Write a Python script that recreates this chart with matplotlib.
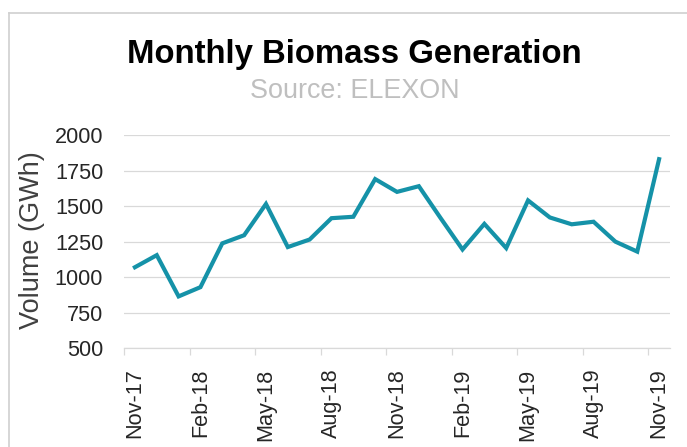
import matplotlib
matplotlib.use("Agg")
import matplotlib.pyplot as plt
from matplotlib.lines import Line2D

# monthly biomass generation (GWh)
months = ["Nov-17", "Dec-17", "Jan-18", "Feb-18", "Mar-18", "Apr-18", "May-18",
          "Jun-18", "Jul-18", "Aug-18", "Sep-18", "Oct-18", "Nov-18", "Dec-18",
          "Jan-19", "Feb-19", "Mar-19", "Apr-19", "May-19", "Jun-19", "Jul-19",
          "Aug-19", "Sep-19", "Oct-19", "Nov-19"]
volume = [1070, 1155, 865, 930, 1238, 1295, 1515, 1212, 1265, 1415, 1425, 1690,
          1600, 1640, 1415, 1195, 1375, 1205, 1540, 1420, 1372, 1390, 1250, 1180,
          1830]
y_ticks = [500, 750, 1000, 1250, 1500, 1750, 2000]

plt.rcParams["font.family"] = ["Liberation Sans", "DejaVu Sans"]

fig = plt.figure(figsize=(6.87, 4.47), dpi=100)
ax = fig.add_axes([124 / 687, 1 - 348.3 / 447, 546 / 687, (348.3 - 135) / 447])

x = list(range(len(months)))
ax.plot(x, volume, color="#1592a8", linewidth=3.0, solid_joinstyle="miter")

ax.set_xlim(-0.5, len(months) - 0.5)
ax.set_ylim(500, 2000)
ax.set_yticks(y_ticks)
ax.set_yticklabels([str(v) for v in y_ticks])
ax.grid(axis="y", color="#d9d9d9", linewidth=0.9)
ax.set_axisbelow(True)

# labels sit on the month, tick marks sit between months
ax.set_xticks(x[::3])
ax.set_xticklabels(months[::3], rotation=90)
ax.set_xticks([i - 0.5 for i in x[::3]], minor=True)
ax.tick_params(axis="x", which="major", length=0, pad=14.5,
               labelsize=15.6, labelcolor="#262626")
ax.tick_params(axis="x", which="minor", length=5, width=0.9, color="#d9d9d9")
ax.tick_params(axis="y", length=0, pad=15, labelsize=15.6, labelcolor="#262626")

for side in ["left", "right", "top"]:
    ax.spines[side].set_visible(False)
ax.spines["bottom"].set_color("#d9d9d9")
ax.spines["bottom"].set_linewidth(0.9)

fig.text(32 / 687, 1 - 240 / 447, "Volume (GWh)", rotation=90, ha="center",
         va="center", fontsize=19.5, color="#404040")
fig.text(354.5 / 687, 1 - 63 / 447, "Monthly Biomass Generation", ha="center",
         va="baseline", fontsize=23.7, fontweight="bold", color="black")
fig.text(355 / 687, 1 - 98 / 447, "Source: ELEXON", ha="center",
         va="baseline", fontsize=19.4, color="#bfbfbf")

# chart area border, cut off at the right and bottom like the screenshot
bx, by = 9.3 / 687, 1 - 13.3 / 447
fig.add_artist(Line2D([bx, bx], [0, by], color="#d0d0d0", linewidth=1.2))
fig.add_artist(Line2D([bx, 1], [by, by], color="#d0d0d0", linewidth=1.2))

fig.savefig("out.png", dpi=100)
